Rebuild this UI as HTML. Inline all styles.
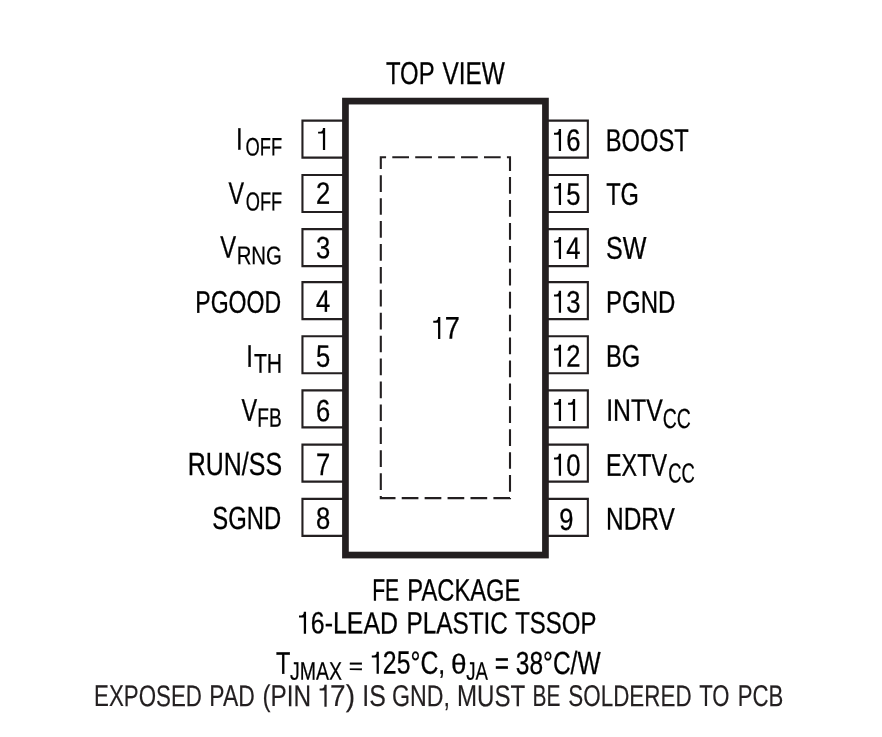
<!DOCTYPE html>
<html><head><meta charset="utf-8"><style>html,body{margin:0;padding:0;background:#fff;}svg{display:block;will-change:transform;}</style></head>
<body><svg width="882" height="737" viewBox="0 0 882 737" font-family="Liberation Sans, sans-serif" stroke="#000">
<rect width="882" height="737" fill="#fff" stroke="none"/>
<path d="M343.10 120.60H302.45V157.60H343.10" fill="none" stroke="#231f20" stroke-width="2.1"/>
<path d="M547.80 120.60H587.85V157.60H547.80" fill="none" stroke="#231f20" stroke-width="2.1"/>
<path d="M343.10 175.02H302.45V212.02H343.10" fill="none" stroke="#231f20" stroke-width="2.1"/>
<path d="M547.80 175.02H587.85V212.02H547.80" fill="none" stroke="#231f20" stroke-width="2.1"/>
<path d="M343.10 229.10H302.45V266.10H343.10" fill="none" stroke="#231f20" stroke-width="2.1"/>
<path d="M547.80 229.10H587.85V266.10H547.80" fill="none" stroke="#231f20" stroke-width="2.1"/>
<path d="M343.10 282.11H302.45V319.11H343.10" fill="none" stroke="#231f20" stroke-width="2.1"/>
<path d="M547.80 282.11H587.85V319.11H547.80" fill="none" stroke="#231f20" stroke-width="2.1"/>
<path d="M343.10 336.18H302.45V373.18H343.10" fill="none" stroke="#231f20" stroke-width="2.1"/>
<path d="M547.80 336.18H587.85V373.18H547.80" fill="none" stroke="#231f20" stroke-width="2.1"/>
<path d="M343.10 390.38H302.45V427.38H343.10" fill="none" stroke="#231f20" stroke-width="2.1"/>
<path d="M547.80 390.38H587.85V427.38H547.80" fill="none" stroke="#231f20" stroke-width="2.1"/>
<path d="M343.10 444.62H302.45V481.62H343.10" fill="none" stroke="#231f20" stroke-width="2.1"/>
<path d="M547.80 444.62H587.85V481.62H547.80" fill="none" stroke="#231f20" stroke-width="2.1"/>
<path d="M343.10 498.87H302.45V535.87H343.10" fill="none" stroke="#231f20" stroke-width="2.1"/>
<path d="M547.80 498.87H587.85V535.87H547.80" fill="none" stroke="#231f20" stroke-width="2.1"/>
<rect x="345.45" y="101.10" width="200.00" height="453.95" fill="none" stroke="#231f20" stroke-width="6.7"/>
<path d="M380.8 157.3H510.0V498.1H380.8Z" fill="none" stroke="#231f20" stroke-width="2.1" stroke-dasharray="16.7 6.22" stroke-dashoffset="11.42"/>
<path d="M325.15 127.90V149.90H322.90V133.60H318.10V131.65H320.20A2.70 3.75 0 0 0 322.90 127.90Z" fill="#000" stroke="none"/>
<path d="M561.05 129.00V151.00H558.80V134.70H554.00V132.75H556.10A2.70 3.75 0 0 0 558.80 129.00Z" fill="#000" stroke="none"/>
<text transform="matrix(0.8 0.001 0 0.965 573.35 150.85)" font-size="32" stroke-width="0.3" text-anchor="middle">6</text>
<text transform="matrix(0.8 0.001 0 0.965 323.2 203.85)" font-size="32" stroke-width="0.3" text-anchor="middle">2</text>
<path d="M561.05 182.90V204.90H558.80V188.60H554.00V186.65H556.10A2.70 3.75 0 0 0 558.80 182.90Z" fill="#000" stroke="none"/>
<text transform="matrix(0.8 0.001 0 0.965 573.35 204.75)" font-size="32" stroke-width="0.3" text-anchor="middle">5</text>
<text transform="matrix(0.8 0.001 0 0.965 323.2 258.15)" font-size="32" stroke-width="0.3" text-anchor="middle">3</text>
<path d="M561.05 236.90V258.90H558.80V242.60H554.00V240.65H556.10A2.70 3.75 0 0 0 558.80 236.90Z" fill="#000" stroke="none"/>
<text transform="matrix(0.8 0.001 0 0.965 573.35 258.75)" font-size="32" stroke-width="0.3" text-anchor="middle">4</text>
<text transform="matrix(0.8 0.001 0 0.965 323.2 311.75)" font-size="32" stroke-width="0.3" text-anchor="middle">4</text>
<path d="M561.05 290.70V312.70H558.80V296.40H554.00V294.45H556.10A2.70 3.75 0 0 0 558.80 290.70Z" fill="#000" stroke="none"/>
<text transform="matrix(0.8 0.001 0 0.965 573.35 312.55)" font-size="32" stroke-width="0.3" text-anchor="middle">3</text>
<text transform="matrix(0.8 0.001 0 0.965 323.2 366.85)" font-size="32" stroke-width="0.3" text-anchor="middle">5</text>
<path d="M561.05 344.70V366.70H558.80V350.40H554.00V348.45H556.10A2.70 3.75 0 0 0 558.80 344.70Z" fill="#000" stroke="none"/>
<text transform="matrix(0.8 0.001 0 0.965 573.35 366.55)" font-size="32" stroke-width="0.3" text-anchor="middle">2</text>
<text transform="matrix(0.8 0.001 0 0.965 323.2 421.15)" font-size="32" stroke-width="0.3" text-anchor="middle">6</text>
<path d="M561.05 399.00V421.00H558.80V404.70H554.00V402.75H556.10A2.70 3.75 0 0 0 558.80 399.00Z" fill="#000" stroke="none"/>
<path d="M575.15 399.00V421.00H572.90V404.70H568.10V402.75H570.20A2.70 3.75 0 0 0 572.90 399.00Z" fill="#000" stroke="none"/>
<text transform="matrix(0.8 0.001 0 0.965 323.2 474.95)" font-size="32" stroke-width="0.3" text-anchor="middle">7</text>
<path d="M561.05 453.80V475.80H558.80V459.50H554.00V457.55H556.10A2.70 3.75 0 0 0 558.80 453.80Z" fill="#000" stroke="none"/>
<text transform="matrix(0.8 0.001 0 0.965 573.35 475.65)" font-size="32" stroke-width="0.3" text-anchor="middle">0</text>
<text transform="matrix(0.8 0.001 0 0.965 323.2 528.75)" font-size="32" stroke-width="0.3" text-anchor="middle">8</text>
<text transform="matrix(0.8 0.001 0 0.965 566.4 529.95)" font-size="32" stroke-width="0.3" text-anchor="middle">9</text>
<path d="M440.30 316.95V338.95H438.05V322.65H433.25V320.70H435.35A2.70 3.75 0 0 0 438.05 316.95Z" fill="#000" stroke="none"/>
<path d="M306.05 611.80V633.80H303.80V617.50H299.00V615.55H301.10A2.70 3.75 0 0 0 303.80 611.80Z" fill="#000" stroke="none"/>
<path d="M378.85 651.80V673.80H376.60V657.50H371.80V655.55H373.90A2.70 3.75 0 0 0 376.60 651.80Z" fill="#000" stroke="none"/>
<path d="M326.65 684.80V706.80H324.40V690.50H319.60V688.55H321.70A2.70 3.75 0 0 0 324.40 684.80Z" fill="#231f20" stroke="none"/>
<text transform="matrix(0.7462 0.001 0 0.987 385.93 83.91)" font-size="32.0" stroke-width="0.3">TOP</text>
<text transform="matrix(0.7633 0.001 0 0.987 442.5 83.91)" font-size="32.0" stroke-width="0.3">VIEW</text>
<text transform="matrix(0.8475 0.001 0 0.9733 444.73 338.56)" font-size="32.0" stroke-width="0.3">7</text>
<text transform="matrix(0.75 0.001 0 0.9618 236.04 149.6)" font-size="32.0" stroke-width="0.3">I</text>
<text transform="matrix(0.6916 0.001 0 0.9547 245.44 155.46)" font-size="26.5" stroke-width="0.248">OFF</text>
<text transform="matrix(0.7294 0.001 0 0.9689 228.4 203.66)" font-size="32.0" stroke-width="0.3">V</text>
<text transform="matrix(0.6877 0.001 0 0.9813 245.74 210.45)" font-size="26.5" stroke-width="0.248">OFF</text>
<text transform="matrix(0.7435 0.001 0 0.9644 220.2 257.56)" font-size="32.0" stroke-width="0.3">V</text>
<text transform="matrix(0.7691 0.001 0 0.9632 236.66 264.22)" font-size="26.5" stroke-width="0.248">RNG</text>
<text transform="matrix(0.721 0.001 0 0.9739 195.3 312.71)" font-size="32.0" stroke-width="0.3">PGOOD</text>
<text transform="matrix(0.75 0.001 0 0.9753 246.34 366.8)" font-size="32.0" stroke-width="0.3">I</text>
<text transform="matrix(0.8 0.001 0 1.0247 253.9 372.8)" font-size="26.5" stroke-width="0.248">TH</text>
<text transform="matrix(0.7341 0.001 0 0.9778 241.4 420.66)" font-size="32.0" stroke-width="0.3">V</text>
<text transform="matrix(0.7213 0.001 0 1.0027 257.36 426.8)" font-size="26.5" stroke-width="0.248">FB</text>
<text transform="matrix(0.7795 0.001 0 1.0 187.85 475.0)" font-size="32.0" stroke-width="0.3">RUN/SS</text>
<text transform="matrix(0.7454 0.001 0 1.0 212.27 529.0)" font-size="32.0" stroke-width="0.3">SGND</text>
<text transform="matrix(0.7404 0.001 0 0.9783 605.75 150.91)" font-size="32.0" stroke-width="0.3">BOOST</text>
<text transform="matrix(0.7377 0.001 0 0.9739 606.13 204.71)" font-size="32.0" stroke-width="0.3">TG</text>
<text transform="matrix(0.7841 0.001 0 0.987 605.92 258.71)" font-size="32.0" stroke-width="0.3">SW</text>
<text transform="matrix(0.7503 0.001 0 0.9739 606.02 312.71)" font-size="32.0" stroke-width="0.3">PGND</text>
<text transform="matrix(0.7422 0.001 0 0.9783 606.04 366.81)" font-size="32.0" stroke-width="0.3">BG</text>
<text transform="matrix(0.7772 0.001 0 0.9689 606.16 420.76)" font-size="32.0" stroke-width="0.3">INTV</text>
<text transform="matrix(0.7333 0.001 0 1.0453 662.78 427.94)" font-size="26.5" stroke-width="0.248">CC</text>
<text transform="matrix(0.7284 0.001 0 0.9778 606.08 475.76)" font-size="32.0" stroke-width="0.3">EXTV</text>
<text transform="matrix(0.6944 0.001 0 1.04 668.13 482.44)" font-size="26.5" stroke-width="0.248">CC</text>
<text transform="matrix(0.7646 0.001 0 0.9778 605.99 529.56)" font-size="32.0" stroke-width="0.3">NDRV</text>
<text transform="matrix(0.6604 0.001 0 0.961 372.15 600.52)" font-size="32.0" stroke-width="0.3">FE</text>
<text transform="matrix(0.7428 0.001 0 0.961 407.34 600.52)" font-size="32.0" stroke-width="0.3">PACKAGE</text>
<text transform="matrix(0.778 0.001 0 0.957 310.83 633.32)" font-size="32.0" stroke-width="0.3">6-LEAD</text>
<text transform="matrix(0.7615 0.001 0 0.957 406.4 633.32)" font-size="32.0" stroke-width="0.3">PLASTIC</text>
<text transform="matrix(0.7484 0.001 0 0.957 515.23 633.32)" font-size="32.0" stroke-width="0.3">TSSOP</text>
<text transform="matrix(0.7351 0.001 0 0.9733 275.93 673.66)" font-size="32.0" stroke-width="0.3">T</text>
<text transform="matrix(0.7371 0.001 0 0.9568 289.92 679.66)" font-size="26.5" stroke-width="0.248">JMAX</text>
<text transform="matrix(0.7683 0.001 0 0.6952 348.85 673.85)" font-size="32.0" stroke-width="0.3">=</text>
<text transform="matrix(0.7764 0.001 0 1.0 382.84 673.6)" font-size="32.0" stroke-width="0.3">25°C,</text>
<text transform="matrix(0.8746 0.001 0 0.8589 450.99 673.47)" font-size="32.0" stroke-width="0.3">θ</text>
<text transform="matrix(0.7024 0.001 0 0.9568 466.32 679.66)" font-size="26.5" stroke-width="0.248">JA</text>
<text transform="matrix(0.7671 0.001 0 1.0 494.65 673.9)" font-size="32.0" stroke-width="0.3">= 38°C/W</text>
<text transform="matrix(0.6972 0.001 0 0.94 94.06 706.1)" font-size="32.0" stroke-width="0.2" fill="#231f20" stroke="#231f20">EXPOSED</text>
<text transform="matrix(0.716 0.001 0 0.94 209.31 706.1)" font-size="32.0" stroke-width="0.2" fill="#231f20" stroke="#231f20">PAD</text>
<text transform="matrix(0.7613 0.001 0 0.94 262.38 706.1)" font-size="32.0" stroke-width="0.2" fill="#231f20" stroke="#231f20">(PIN</text>
<text transform="matrix(0.876 0.001 0 0.94 330.09 706.1)" font-size="32.0" stroke-width="0.2" fill="#231f20" stroke="#231f20">7)</text>
<text transform="matrix(0.7769 0.001 0 0.94 362.36 706.1)" font-size="32.0" stroke-width="0.2" fill="#231f20" stroke="#231f20">IS</text>
<text transform="matrix(0.7248 0.001 0 0.94 392.01 706.1)" font-size="32.0" stroke-width="0.2" fill="#231f20" stroke="#231f20">GND,</text>
<text transform="matrix(0.7531 0.001 0 0.94 456.92 706.1)" font-size="32.0" stroke-width="0.2" fill="#231f20" stroke="#231f20">MUST</text>
<text transform="matrix(0.6538 0.001 0 0.94 532.57 706.1)" font-size="32.0" stroke-width="0.2" fill="#231f20" stroke="#231f20">BE</text>
<text transform="matrix(0.7006 0.001 0 0.94 568.35 706.1)" font-size="32.0" stroke-width="0.2" fill="#231f20" stroke="#231f20">SOLDERED</text>
<text transform="matrix(0.6905 0.001 0 0.94 699.25 706.1)" font-size="32.0" stroke-width="0.2" fill="#231f20" stroke="#231f20">TO</text>
<text transform="matrix(0.6931 0.001 0 0.94 737.67 706.1)" font-size="32.0" stroke-width="0.2" fill="#231f20" stroke="#231f20">PCB</text>
</svg></body></html>
